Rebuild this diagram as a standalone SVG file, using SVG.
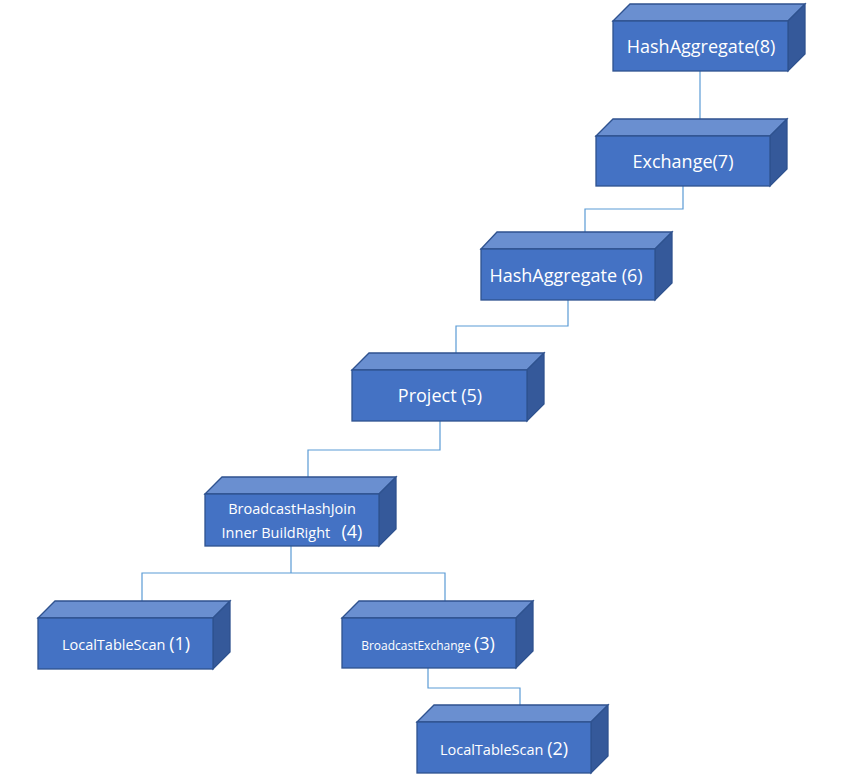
<svg xmlns="http://www.w3.org/2000/svg" width="848" height="784" viewBox="0 0 848 784">
<style>
.front{fill:#4472C4;stroke:#2F528F;stroke-width:1.3}
.top{fill:#6A8FD0;stroke:#2F528F;stroke-width:1.3}
.side{fill:#35599A;stroke:#2F528F;stroke-width:1.3}
.t{fill:#FFFFFF;font-family:"Open Sans","Liberation Sans",sans-serif;text-anchor:middle}
.c{fill:none;stroke:#5B9BD5;stroke-width:1.2}
</style>
<rect width="848" height="784" fill="#FFFFFF"/>
<g id="connectors">
<path class="c" d="M700,71 V119"/>
<path class="c" d="M683,186 V209 H585 V232"/>
<path class="c" d="M568,300 V326 H456 V353"/>
<path class="c" d="M440,421 V450 H308 V477"/>
<path class="c" d="M291,546 V573 H142 V601 M291,573 H445 V601"/>
<path class="c" d="M428,668 V688 H520 V705"/>
</g>
<g id="node8">
<polygon class="top" points="613,21 630,4 805,4 788,21"/>
<polygon class="side" points="788,21 805,4 805,54 788,71"/>
<rect class="front" x="613" y="21" width="175" height="50"/>
<text class="t" x="701" y="53" font-size="18">HashAggregate(8)</text>
</g>
<g id="node7">
<polygon class="top" points="596,136 613,119 787,119 770,136"/>
<polygon class="side" points="770,136 787,119 787,169 770,186"/>
<rect class="front" x="596" y="136" width="174" height="50"/>
<text class="t" x="683" y="168" font-size="18">Exchange(7)</text>
</g>
<g id="node6">
<polygon class="top" points="481,249 497,232 672,232 655,249"/>
<polygon class="side" points="655,249 672,232 672,283 655,300"/>
<rect class="front" x="481" y="249" width="174" height="51"/>
<text class="t" x="566" y="282" font-size="18">HashAggregate (6)</text>
</g>
<g id="node5">
<polygon class="top" points="352,370 369,353 544,353 527,370"/>
<polygon class="side" points="527,370 544,353 544,404 527,421"/>
<rect class="front" x="352" y="370" width="175" height="51"/>
<text class="t" x="440" y="402" font-size="18">Project (5)</text>
</g>
<g id="node4">
<polygon class="top" points="205,494 222,477 396,477 379,494"/>
<polygon class="side" points="379,494 396,477 396,529 379,546"/>
<rect class="front" x="205" y="494" width="174" height="52"/>
<text class="t" x="292" y="514" font-size="14.5">BroadcastHashJoin</text>
<text class="t" x="292" y="538" font-size="14.5">Inner BuildRight&#160;&#160; <tspan font-size="18">(4)</tspan></text>
</g>
<g id="node1">
<polygon class="top" points="38,618 55,601 230,601 213,618"/>
<polygon class="side" points="213,618 230,601 230,652 213,669"/>
<rect class="front" x="38" y="618" width="175" height="51"/>
<text class="t" x="126" y="650" font-size="14.5">LocalTableScan <tspan font-size="18">(1)</tspan></text>
</g>
<g id="node3">
<polygon class="top" points="342,618 359,601 533,601 516,618"/>
<polygon class="side" points="516,618 533,601 533,651 516,668"/>
<rect class="front" x="342" y="618" width="174" height="50"/>
<text class="t" x="428" y="650" font-size="12">BroadcastExchange <tspan font-size="18">(3)</tspan></text>
</g>
<g id="node2">
<polygon class="top" points="417,722 434,705 608,705 591,722"/>
<polygon class="side" points="591,722 608,705 608,756 591,773"/>
<rect class="front" x="417" y="722" width="174" height="51"/>
<text class="t" x="504" y="755" font-size="14.5">LocalTableScan <tspan font-size="18">(2)</tspan></text>
</g>
</svg>
